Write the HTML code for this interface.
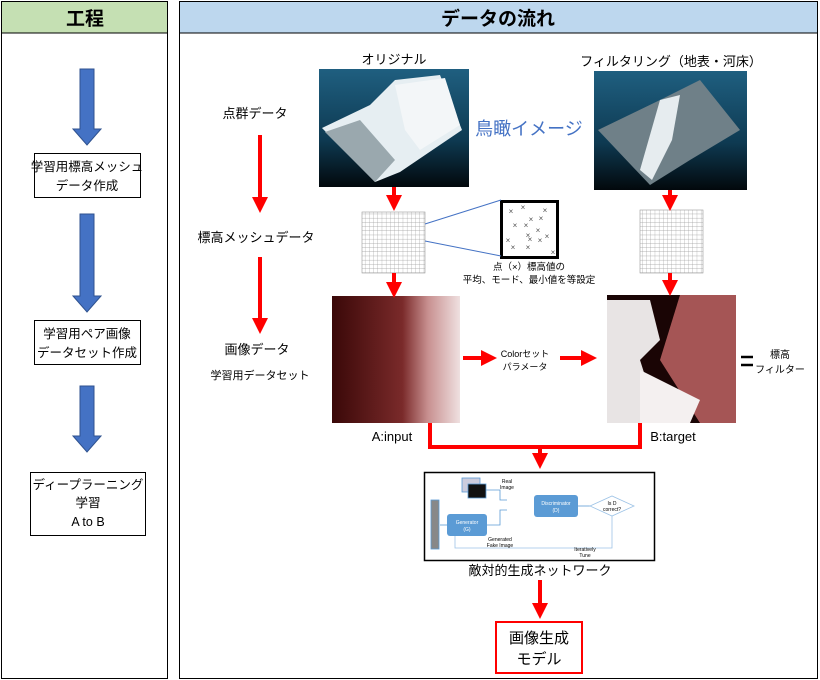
<!DOCTYPE html>
<html><head><meta charset="utf-8"><style>
body{margin:0;background:#fff;}
svg{display:block;font-family:"Liberation Sans","Noto Sans CJK JP",sans-serif;}
</style></head><body>
<svg width="820" height="680" viewBox="0 0 820 680" xmlns="http://www.w3.org/2000/svg">
<defs>
<linearGradient id="sky" x1="0" y1="0" x2="0" y2="1"><stop offset="0" stop-color="#1f5f80"/><stop offset="0.6" stop-color="#0e3a52"/><stop offset="1" stop-color="#02080c"/></linearGradient>
<linearGradient id="redA" x1="0" y1="0" x2="1" y2="0"><stop offset="0" stop-color="#3a0808"/><stop offset="0.55" stop-color="#7a2a2a"/><stop offset="0.75" stop-color="#c89090"/><stop offset="1" stop-color="#efe0e0"/></linearGradient>
<pattern id="grid" width="4.2" height="4.2" patternUnits="userSpaceOnUse"><path d="M4.2 0V4.2H0" fill="none" stroke="#999" stroke-width="0.6"/></pattern>
<marker id="rh" markerWidth="4" markerHeight="4" refX="2" refY="2" orient="auto" markerUnits="strokeWidth"><path d="M0,0 L4,2 L0,4 Z" fill="#f00"/></marker>
</defs>
<rect x="1.5" y="1.5" width="166" height="677" fill="#fff" stroke="#000"/>
<rect x="2" y="2" width="165" height="31" fill="#c5e0b3"/>
<line x1="2" y1="33" x2="167" y2="33" stroke="#000"/>
<text x="85" y="25" font-size="19" font-weight="bold" text-anchor="middle">工程</text>
<g fill="#4472c4" stroke="#2f528f" stroke-width="1">
<path d="M80 69h14v60h7l-14 16l-14-16h7z"/>
<path d="M80 214h14v82h7l-14 16l-14-16h7z"/>
<path d="M80 386h14v50h7l-14 16l-14-16h7z"/>
</g>
<g fill="#fff" stroke="#000">
<rect x="34.5" y="153.5" width="106" height="44"/>
<rect x="34.5" y="320.5" width="106" height="44"/>
<rect x="30.5" y="472.5" width="115" height="63"/>
</g>
<g font-size="12.5" text-anchor="middle">
<text x="87" y="171">学習用標高メッシュ</text><text x="87" y="190">データ作成</text>
<text x="87" y="338">学習用ペア画像</text><text x="87" y="357">データセット作成</text>
<text x="88" y="489">ディープラーニング</text><text x="88" y="507">学習</text><text x="88" y="526">A to B</text>
</g>
<rect x="179.5" y="1.5" width="638" height="677" fill="#fff" stroke="#000"/>
<rect x="180" y="2" width="637" height="31" fill="#bdd7ee"/>
<line x1="180" y1="33" x2="817" y2="33" stroke="#000"/>
<text x="498" y="25" font-size="19" font-weight="bold" text-anchor="middle">データの流れ</text>
<g font-size="13" text-anchor="middle">
<text x="394" y="64">オリジナル</text>
<text x="671" y="66">フィルタリング（地表・河床）</text>
<text x="255" y="118">点群データ</text>
<text x="256" y="242">標高メッシュデータ</text>
<text x="257" y="354">画像データ</text>
<text x="260" y="379" font-size="11">学習用データセット</text>
<text x="392" y="441">A:input</text>
<text x="673" y="441">B:target</text>
<text x="540" y="575">敵対的生成ネットワーク</text>
<text x="529" y="270" font-size="9.5">点（×）標高値の</text>
<text x="529" y="283" font-size="9.5">平均、モード、最小値を等設定</text>
<text x="525" y="357" font-size="9">Colorセット</text>
<text x="525" y="370" font-size="9">パラメータ</text>
<text x="780" y="358" font-size="10">標高</text>
<text x="780" y="373" font-size="10">フィルター</text>
</g>
<text x="529" y="135" font-size="18" fill="#4472c4" text-anchor="middle">鳥瞰イメージ</text>
<g stroke="#000" stroke-width="2.5"><line x1="741" y1="357" x2="753" y2="357"/><line x1="741" y1="365" x2="753" y2="365"/></g>
<rect x="319" y="69" width="150" height="118" fill="url(#sky)"/>
<path d="M322 128 L370 105 L395 80 L440 75 L462 130 L400 172 L375 182 Z" fill="#e6eef2"/>
<path d="M325 132 L360 120 L395 160 L375 182 Z" fill="#9aa8ae"/>
<path d="M395 85 L445 78 L460 125 L420 150 L405 130 Z" fill="#f3f6f8"/>
<rect x="594" y="71" width="153" height="119" fill="url(#sky)"/>
<path d="M598 130 L660 100 L700 80 L740 130 L690 160 L650 185 Z" fill="#6f8088"/>
<path d="M660 100 L680 95 L672 140 L652 180 L640 170 Z" fill="#e6ecef"/>
<rect x="362" y="212" width="63" height="61" fill="url(#grid)" stroke="#999" stroke-width="0.6"/>
<rect x="640" y="210" width="63" height="63" fill="url(#grid)" stroke="#999" stroke-width="0.6"/>
<rect x="501.5" y="201.5" width="56" height="56" fill="#fff" stroke="#000" stroke-width="3"/>
<g font-size="8" fill="#555" text-anchor="middle">
<text x="511" y="214">×</text><text x="523" y="210">×</text><text x="545" y="213">×</text><text x="531" y="222">×</text><text x="541" y="221">×</text><text x="515" y="228">×</text><text x="526" y="228">×</text><text x="538" y="233">×</text><text x="528" y="238">×</text><text x="547" y="239">×</text><text x="508" y="243">×</text><text x="530" y="242">×</text><text x="540" y="243">×</text><text x="513" y="250">×</text><text x="528" y="250">×</text><text x="553" y="255">×</text>
</g>
<line x1="425" y1="224" x2="501" y2="200" stroke="#4472c4"/>
<line x1="425" y1="241" x2="501" y2="256" stroke="#4472c4"/>
<rect x="332" y="296" width="128" height="127" fill="url(#redA)"/>
<rect x="607" y="295" width="129" height="128" fill="#1a0505"/>
<path d="M680 295 L736 295 L736 423 L700 423 L660 360 Z" fill="#a55555"/>
<path d="M607 300 L650 300 L660 340 L640 360 L660 423 L607 423 Z" fill="#e8e4e4"/>
<path d="M640 370 L700 400 L690 423 L640 423 Z" fill="#f4f0f0"/>
<g stroke="#f00" stroke-width="4" fill="none">
<line x1="394" y1="187" x2="394" y2="203" marker-end="url(#rh)"/>
<line x1="394" y1="273" x2="394" y2="290" marker-end="url(#rh)"/>
<line x1="670" y1="190" x2="670" y2="203" marker-end="url(#rh)"/>
<line x1="670" y1="273" x2="670" y2="288" marker-end="url(#rh)"/>
<line x1="260" y1="135" x2="260" y2="205" marker-end="url(#rh)"/>
<line x1="260" y1="257" x2="260" y2="326" marker-end="url(#rh)"/>
<line x1="463" y1="358" x2="489" y2="358" marker-end="url(#rh)"/>
<line x1="560" y1="358" x2="589" y2="358" marker-end="url(#rh)"/>
<polyline points="430,423 430,447 640,447 640,423"/>
<line x1="540" y1="447" x2="540" y2="461" marker-end="url(#rh)"/>
<line x1="540" y1="580" x2="540" y2="611" marker-end="url(#rh)"/>
</g>
<rect x="424.5" y="472.5" width="230" height="88" fill="#fff" stroke="#000" stroke-width="1.5"/>
<g stroke="#5b9bd5" fill="none" stroke-width="0.8">
<rect x="431" y="500" width="8" height="49" fill="#888"/>
<rect x="462" y="478" width="18" height="14" fill="#ccd"/>
<rect x="468" y="484" width="18" height="14" fill="#111"/>
<path d="M486 490 L500 490 L500 500 L507 500"/><path d="M478 525 L500 525 L500 510 L507 510"/>
<path d="M440 525 L447 525"/><path d="M577 506 L590 506"/>
<path d="M590 506 L612 496 L634 506 L612 516 Z" stroke="#9dc3e6"/>
<path d="M612 516 L612 548 L455 548 L455 535" stroke="#9dc3e6"/>
</g>
<rect x="447" y="514" width="40" height="22" rx="3" fill="#5b9bd5"/>
<rect x="534" y="495" width="44" height="22" rx="3" fill="#5b9bd5"/>
<g font-size="5" text-anchor="middle">
<text x="467" y="524" fill="#fff">Generator</text><text x="467" y="531" fill="#fff">(G)</text>
<text x="556" y="505" fill="#fff">Discriminator</text><text x="556" y="512" fill="#fff">(D)</text>
<text x="612" y="505">Is D</text><text x="612" y="511">correct?</text>
<text x="507" y="483">Real</text><text x="507" y="489">Image</text>
<text x="500" y="541">Generated</text><text x="500" y="547">Fake Image</text>
<text x="585" y="551">Iteratively</text><text x="585" y="557">Tune</text>
</g>
<rect x="496" y="622" width="86" height="51" fill="#fff" stroke="#f00" stroke-width="2"/>
<text x="539" y="643" font-size="15" text-anchor="middle">画像生成</text>
<text x="539" y="664" font-size="15" text-anchor="middle">モデル</text>
</svg>
</body></html>
